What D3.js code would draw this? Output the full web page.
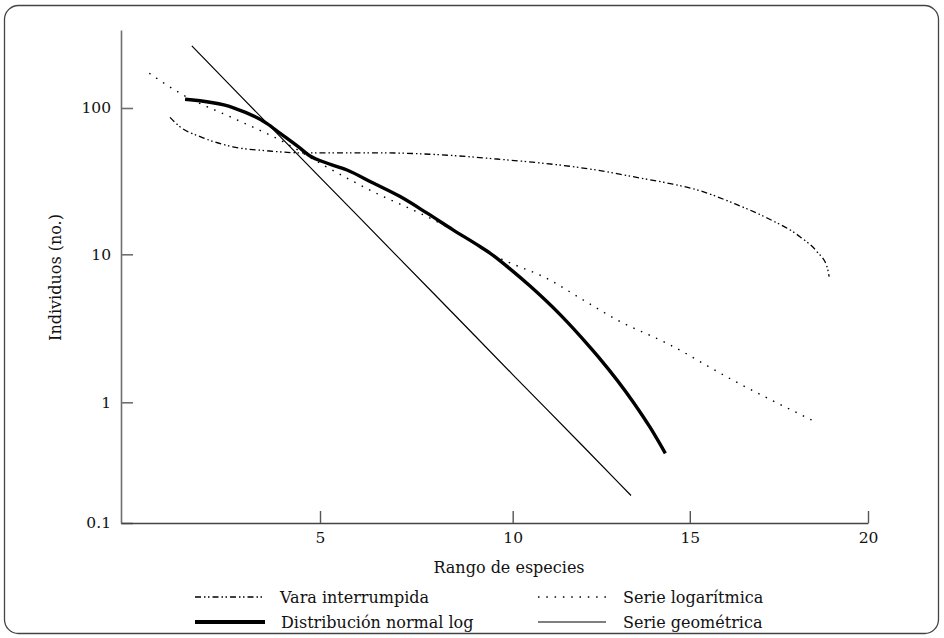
<!DOCTYPE html>
<html><head><meta charset="utf-8">
<script src="https://cdn.jsdelivr.net/npm/d3@7"></script>
<style>
body{margin:0;background:#fff}
svg{display:block}
text{font-family:"DejaVu Serif",serif;fill:#111}
</style>
</head><body>
<svg id="c" width="944" height="638"></svg>
<script>
// ---- data ----
const xTickValues = [5, 10, 15, 20];
const yTickValues = [0.1, 1, 10, 100];
const yTickLabels = ["0.1", "1", "10", "100"];
const xAxisTitle = "Rango de especies";
const yAxisTitle = "Individuos (no.)";

const brokenStickRank  = [1.23, 1.48, 1.99, 2.81, 3.67, 4.5, 6.56, 7.85, 9.59, 12.47, 13.4, 14.36, 15.29, 16.21, 17.17, 18.09, 18.57, 18.85, 18.91];
const brokenStickValue = [86.3, 74.5, 63.7, 54.3, 51.0, 49.4, 49.4, 48.3, 44.8, 37.3, 33.9, 30.7, 27.2, 22.4, 17.7, 13.2, 10.4, 8.24, 7.06];

const logSeriesRank  = [0.71, 1.56, 2.81, 4.07, 5.08, 6.56, 7.41, 8.3, 9.59, 11.05, 11.99, 12.95, 14.36, 16.21, 18.42];
const logSeriesValue = [172.6, 122.7, 85.5, 58.9, 40.8, 25.4, 20.1, 15.4, 9.63, 6.70, 4.91, 3.60, 2.50, 1.41, 0.713];

const logNormalRank  = [1.61, 2.81, 3.67, 4.0, 4.5, 4.75, 5.08, 5.7, 6.38, 7.08, 7.78, 8.45, 9.15, 9.41, 9.93, 10.49, 11.34, 12.18, 12.47, 13.4, 13.88, 14.31];
const logNormalValue = [114.6, 100.7, 78.3, 67.1, 53.1, 47.0, 42.9, 37.7, 30.7, 24.8, 19.1, 14.7, 11.3, 10.2, 7.97, 6.10, 3.91, 2.36, 1.96, 1.006, 0.619, 0.378];

const geometricRank  = [1.78, 3, 4, 5, 6, 7, 8, 9, 10, 11, 12, 13, 13.34];
const geometricValue = [265, 121, 63.8, 33.6, 18.1, 9.72, 5.27, 2.85, 1.54, 0.854, 0.428, 0.214, 0.169];

const seriesNames = ["Vara interrumpida", "Serie logarítmica", "Distribución normal log", "Serie geométrica"];

// ---- styles ----
const styles = {
  "Vara interrumpida":      {w: 1.3, dash: "6,3,1.5,2.5,1.5,3"},
  "Serie logarítmica":      {w: 1.4, dash: "1.5,6.8"},
  "Distribución normal log":{w: 3.4, dash: null},
  "Serie geométrica":       {w: 1.2, dash: null}
};

const series = [
  {name: seriesNames[0], pts: d3.zip(brokenStickRank, brokenStickValue)},
  {name: seriesNames[1], pts: d3.zip(logSeriesRank, logSeriesValue)},
  {name: seriesNames[2], pts: d3.zip(logNormalRank, logNormalValue)},
  {name: seriesNames[3], pts: d3.zip(geometricRank, geometricValue)}
];

const svg = d3.select("#c");

// frame
svg.append("rect").attr("x", 4.5).attr("y", 5.5).attr("width", 934).attr("height", 628)
  .attr("rx", 14).attr("fill", "none").attr("stroke", "#444").attr("stroke-width", 1.3);

// scales (piecewise, as in the printed figure)
const x = d3.scaleLinear().domain([0, 5, 10, 15, 20]).range([121, 320, 512.7, 689.8, 868]);
const y = d3.scaleLog().domain([0.1, 1, 10, 100, 340]).range([523, 402.3, 254.3, 108, 30]);

// axes
const yAxis = svg.append("g").attr("transform", "translate(121,0)")
  .call(d3.axisLeft(y).tickValues(yTickValues).tickFormat((d, i) => yTickLabels[i])
    .tickSizeInner(-12).tickSizeOuter(0).tickPadding(10));
yAxis.select(".domain").attr("stroke", "#6f6f6f").attr("stroke-width", 1.6);
yAxis.selectAll(".tick line").attr("stroke", "#6f6f6f").attr("stroke-width", 1.6);
yAxis.selectAll(".tick text").attr("font-size", "15.5px").attr("font-family", "DejaVu Serif").attr("fill", "#111");

const xAxis = svg.append("g").attr("transform", "translate(0,523)")
  .call(d3.axisBottom(x).tickValues(xTickValues).tickFormat(d3.format("d"))
    .tickSizeInner(-12).tickSizeOuter(0).tickPadding(9));
xAxis.select(".domain").attr("stroke", "#444").attr("stroke-width", 1.5);
xAxis.selectAll(".tick line").attr("stroke", "#555").attr("stroke-width", 1.4);
xAxis.selectAll(".tick text").attr("font-size", "15.5px").attr("font-family", "DejaVu Serif").attr("fill", "#111");

// axis titles
svg.append("text").attr("x", 509).attr("y", 567).attr("text-anchor", "middle")
  .attr("dominant-baseline", "central").attr("font-size", "16px").text(xAxisTitle);
svg.append("text").attr("transform", "translate(55.5,277.5) rotate(-90)").attr("text-anchor", "middle")
  .attr("dominant-baseline", "central").attr("font-size", "16px").text(yAxisTitle);

// curves
const line = d3.line().x(d => x(d[0])).y(d => y(d[1])).curve(d3.curveMonotoneX);
const lineStraight = d3.line().x(d => x(d[0])).y(d => y(d[1]));
series.forEach(s => {
  const st = styles[s.name];
  svg.append("path").datum(s.pts)
    .attr("d", s.name === "Serie geométrica" ? lineStraight : line)
    .attr("fill", "none").attr("stroke", "#000")
    .attr("stroke-width", st.w).attr("stroke-dasharray", st.dash)
    .attr("stroke-linecap", "butt");
});

// legend
const legendLayout = [
  {name: seriesNames[0], x0: 195, x1: 265, tx: 280, y: 597},
  {name: seriesNames[2], x0: 195, x1: 265, tx: 281, y: 622},
  {name: seriesNames[1], x0: 538, x1: 606, tx: 623, y: 597},
  {name: seriesNames[3], x0: 538, x1: 606, tx: 623, y: 622}
];
legendLayout.forEach(l => {
  const st = styles[l.name];
  svg.append("line").attr("x1", l.x0).attr("x2", l.x1).attr("y1", l.y).attr("y2", l.y)
    .attr("stroke", "#000").attr("stroke-width", l.name === seriesNames[2] ? 4 : st.w)
    .attr("stroke-dasharray", st.dash);
  svg.append("text").attr("x", l.tx).attr("y", l.y).attr("dominant-baseline", "central")
    .attr("font-size", "16px").text(l.name);
});
</script>
</body></html>
